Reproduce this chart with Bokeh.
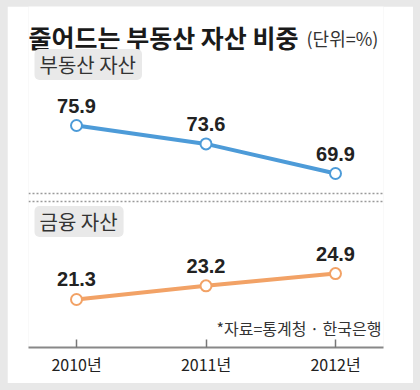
from bokeh.plotting import figure
from bokeh.layouts import column
from bokeh.models import Range1d, FixedTicker, Label, Span, ColumnDataSource
from bokeh.core.properties import value
from bokeh.embed import file_html
from bokeh.resources import INLINE

years = [2010, 2011, 2012]
year_labels = ["2010년", "2011년", "2012년"]
real_estate = [75.9, 73.6, 69.9]
financial = [21.3, 23.2, 24.9]

title_text = "줄어드는 부동산 자산 비중"
unit_text = "(단위=%)"
series_names = ["부동산 자산", "금융 자산"]
source_text = "*자료=통계청 · 한국은행"

BLUE = "#4d9bd8"
ORANGE = "#f2a266"
KR = "Noto Sans CJK KR"
NUM = "Liberation Sans"

W, H = 406, 377
p = figure(width=W, height=H, output_backend="svg", toolbar_location=None,
           x_range=Range1d(2009.6293, 2012.3707), y_range=Range1d(48.15, 90.775),
           min_border_left=21, min_border_right=30, min_border_top=0, min_border_bottom=36)
p.extra_y_ranges = {"fin": Range1d(14.633, 61.994)}
p.outline_line_color = None
p.background_fill_color = "white"
p.border_fill_color = "white"
p.grid.visible = False
p.yaxis.visible = False

ax = p.xaxis[0]
ax.ticker = FixedTicker(ticks=years)
ax.major_label_overrides = {y: l for y, l in zip(years, year_labels)}
ax.major_label_text_font = KR
ax.major_label_text_font_size = "16px"
ax.major_label_text_color = "#222222"
ax.major_label_standoff = 4
ax.major_tick_in = 8
ax.major_tick_out = 0
ax.minor_tick_line_color = None
ax.major_tick_line_color = "#777777"
ax.major_tick_line_width = 1.5
ax.axis_line_color = "#888888"
ax.axis_line_width = 2

src1 = ColumnDataSource(dict(x=years, y=real_estate, t=[f"{v:.1f}" for v in real_estate]))
src2 = ColumnDataSource(dict(x=years, y=financial, t=[f"{v:.1f}" for v in financial]))

# divider dotted lines (blue-range data coords)
for loc in (67.4, 66.4):
    p.add_layout(Span(location=loc, dimension="width", line_color="#9a9a9a",
                      line_dash="2 2", line_width=1.5))

p.line("x", "y", source=src1, line_color=BLUE, line_width=4)
p.scatter("x", "y", source=src1, size=11, fill_color="white", line_color=BLUE, line_width=2)
p.line("x", "y", source=src2, line_color=ORANGE, line_width=4, y_range_name="fin")
p.scatter("x", "y", source=src2, size=11, fill_color="white", line_color=ORANGE, line_width=2,
          y_range_name="fin")

p.text("x", "y", text="t", source=src1, text_font=value(NUM),
       text_font_style="bold", text_font_size="20px", text_color="#222222",
       text_align="center", text_baseline="middle", y_offset=-20)
p.text("x", "y", text="t", source=src2, text_font=value(NUM), y_range_name="fin",
       text_font_style="bold", text_font_size="20px", text_color="#222222",
       text_align="center", text_baseline="middle", y_offset=-20)

# screen coords relative to the frame's bottom-left (page x 28, page y 347)
def sx(px):
    return px - 28
def sy(py):
    return 347 - py

pad = dict(left=5, right=6, top=1, bottom=1)
p.add_layout(Label(x=sx(28), y=sy(36), x_units="screen", y_units="screen", text=title_text,
                   text_font=KR, text_font_style="bold", text_font_size="25px",
                   text_color="#1a1a1a", text_baseline="middle", text_align="left"))
p.add_layout(Label(x=sx(306), y=sy(37), x_units="screen", y_units="screen", text=unit_text,
                   text_font=KR, text_font_size="18px", text_color="#333333",
                   text_baseline="middle", text_align="left"))
p.add_layout(Label(x=sx(34), y=sy(64), x_units="screen", y_units="screen", text=series_names[0],
                   text_font=KR, text_font_size="20px", text_color="#333333",
                   text_baseline="middle", text_align="left",
                   background_fill_color="#e9e9e9", padding=pad, border_radius=5))
p.add_layout(Label(x=sx(34), y=sy(221), x_units="screen", y_units="screen", text=series_names[1],
                   text_font=KR, text_font_size="20px", text_color="#333333",
                   text_baseline="middle", text_align="left",
                   background_fill_color="#e9e9e9", padding=pad, border_radius=5))
p.add_layout(Label(x=sx(381), y=sy(327), x_units="screen", y_units="screen", text=source_text,
                   text_font=KR, text_font_size="16px", text_color="#333333",
                   text_baseline="middle", text_align="right"))

page = column(p, styles={"background-color": "#e8e8e8", "padding": "6px 7px 7px 7px"})
open("out.html", "w").write(file_html(page, INLINE))
